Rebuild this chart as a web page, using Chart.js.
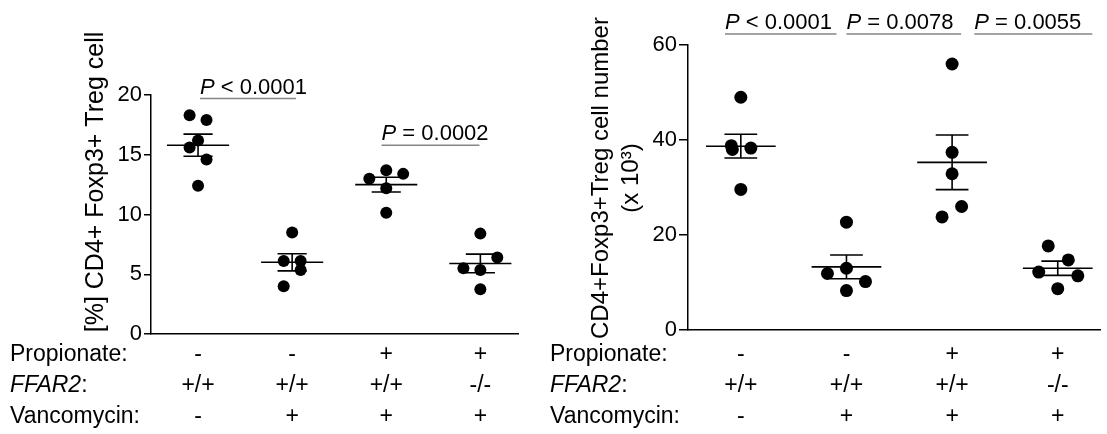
<!DOCTYPE html>
<html><head><meta charset="utf-8">
<script src="https://cdn.jsdelivr.net/npm/chart.js@4.4.0/dist/chart.umd.min.js"></script>
<style>
html,body{margin:0;padding:0;background:#fff;}
#wrap{position:relative;width:1107px;height:434px;overflow:hidden;}
#c1{position:absolute;left:0;top:0;}
#c2{position:absolute;left:540px;top:0;}
</style></head><body>
<div id="wrap">
<canvas id="c1" width="540" height="434"></canvas>
<canvas id="c2" width="567" height="434"></canvas>
</div>
<script>
// ---- categories / tick labels ----
const groups = [1, 2, 3, 4];
const propionate = ['-', '-', '+', '+'];
const ffar2 = ['+/+', '+/+', '+/+', '-/-'];
const vancomycin = ['-', '+', '+', '+'];
const rowLabels = ['Propionate:', 'FFAR2', 'Vancomycin:'];

// ---- left panel: [%] CD4+ Foxp3+ Treg cell ----
const pctTicks = [0, 5, 10, 15, 20];
const pctValues = [
  [18.3, 17.9, 16.2, 15.6, 14.6, 12.4],
  [8.5, 6.1, 6.1, 5.35, 4.0],
  [13.7, 13.0, 13.4, 12.2, 10.15],
  [8.4, 6.4, 5.5, 5.35, 3.75]
];
const pctJitter = [
  [-0.09, 0.09, 0, -0.09, 0.09, 0],
  [0, -0.09, 0.09, 0.09, -0.09],
  [0, -0.18, 0.18, 0, 0],
  [0, 0.18, -0.18, 0, 0]
];
const pctMean = [15.8, 6.0, 12.5, 5.9];
const pctSem = [0.93, 0.72, 0.62, 0.78];
const pctPText = ['< 0.0001', '= 0.0002'];
const pctPFrom = [1.02, 2.95];
const pctPTo = [2.04, 3.99];
const pctPAt = [19.7, 15.8];

// ---- right panel: cell number (x 10^3) ----
const numTicks = [0, 20, 40, 60];
const numValues = [
  [49.0, 38.8, 38.0, 38.3, 29.6],
  [22.7, 11.9, 13.0, 10.2, 8.3],
  [56.0, 37.4, 32.9, 26.0, 23.8],
  [17.7, 14.75, 12.2, 11.4, 8.7]
];
const numJitter = [
  [0, -0.09, -0.08, 0.095, 0],
  [0, -0.18, 0, 0.18, 0],
  [0, 0, 0, 0.09, -0.095],
  [-0.09, 0.1, -0.18, 0.19, 0]
];
const numMean = [38.7, 13.3, 35.3, 13.0];
const numSem = [2.5, 2.5, 5.75, 1.5];
const numPText = ['< 0.0001', '= 0.0078', '= 0.0055'];
const numPFrom = [0.85, 2.0, 3.21];
const numPTo = [1.905, 3.086, 4.327];
const numPAt = [62.3, 62.3, 62.3];

const FONT = "'Liberation Sans', Arial, Helvetica, sans-serif";
Chart.defaults.font.family = FONT;
Chart.defaults.color = '#000';

const MEAN_HALF = 0.33, CAP_HALF = 0.155;

function pointsData(values, jitter) {
  const d = [];
  values.forEach((arr, gi) => arr.forEach((v, k) => d.push({x: groups[gi] + jitter[gi][k], y: v})));
  return d;
}
function errorData(mean, sem) {
  const d = [];
  groups.forEach((g, i) => {
    const m = mean[i], s = sem[i];
    d.push({x: g - MEAN_HALF, y: m}, {x: g + MEAN_HALF, y: m}, {x: g, y: null},
           {x: g, y: m - s}, {x: g, y: m + s}, {x: g, y: null},
           {x: g - CAP_HALF, y: m + s}, {x: g + CAP_HALF, y: m + s}, {x: g, y: null},
           {x: g - CAP_HALF, y: m - s}, {x: g + CAP_HALF, y: m - s}, {x: g, y: null});
  });
  return d;
}

const annot = {
  id: 'annot',
  afterDraw(chart, args, o) {
    const ctx = chart.ctx, xs = chart.scales.x, ys = chart.scales.y;
    ctx.save();
    // significance bars
    o.pText.forEach((t, i) => {
      const x1 = xs.getPixelForValue(o.pFrom[i]), x2 = xs.getPixelForValue(o.pTo[i]);
      const y = ys.getPixelForValue(o.pAt[i]);
      ctx.strokeStyle = '#858585'; ctx.lineWidth = 1.5;
      ctx.beginPath(); ctx.moveTo(x1, y); ctx.lineTo(x2, y); ctx.stroke();
      ctx.fillStyle = '#000'; ctx.textAlign = 'left'; ctx.textBaseline = 'alphabetic';
      ctx.font = 'italic 22px ' + FONT;
      ctx.fillText('P', x1, y - 5);
      const w = ctx.measureText('P ').width;
      ctx.font = '22px ' + FONT;
      ctx.fillText(t, x1 + w, y - 5);
    });
    // row labels of the condition table
    const tk = xs.options.ticks;
    const lh = tk.font.size * tk.font.lineHeight;
    ctx.fillStyle = '#000'; ctx.textAlign = 'left'; ctx.textBaseline = 'middle';
    rowLabels.forEach((lab, i) => {
      const y = xs.top + tk.padding + lh * (i + 0.5);
      if (i === 1) {
        ctx.font = 'italic 23px ' + FONT;
        ctx.fillText(lab, o.rowX, y);
        const w = ctx.measureText(lab).width;
        ctx.font = '23px ' + FONT;
        ctx.fillText(':', o.rowX + w, y);
      } else {
        ctx.font = '23px ' + FONT;
        ctx.fillText(lab, o.rowX, y);
      }
    });
    // axis title (one or two rotated lines)
    const tt = o.title;
    ctx.translate(tt.x, tt.y);
    ctx.rotate(-Math.PI / 2);
    ctx.font = tt.size + 'px ' + FONT;
    ctx.textAlign = 'center'; ctx.textBaseline = 'middle';
    tt.text.forEach((line, i) => ctx.fillText(line, 0, i * tt.lineGap));
    ctx.restore();
  }
};

function makeChart(id, cfg) {
  return new Chart(document.getElementById(id), {
    type: 'scatter',
    data: {
      datasets: [
        {data: pointsData(cfg.values, cfg.jitter), pointRadius: cfg.radius, pointBackgroundColor: '#000', pointBorderWidth: 0, showLine: false},
        {data: errorData(cfg.mean, cfg.sem), showLine: true, spanGaps: false, pointRadius: 0, borderColor: '#000', borderWidth: 1.6, fill: false}
      ]
    },
    options: {
      responsive: false, animation: false, devicePixelRatio: 1, events: [],
      layout: {padding: cfg.padding},
      plugins: {legend: {display: false}, tooltip: {enabled: false},
        annot: {pText: cfg.pText, pFrom: cfg.pFrom, pTo: cfg.pTo, pAt: cfg.pAt, rowX: 10, title: cfg.title}},
      scales: {
        x: {
          type: 'linear', min: 0.5, max: 4.4,
          afterBuildTicks: s => { s.ticks = groups.map(v => ({value: v})); },
          afterFit: s => { s.height = cfg.xHeight; },
          ticks: {autoSkip: false, maxRotation: 0, padding: cfg.xPad, font: {size: 23, lineHeight: 31 / 23}, color: '#000',
            callback: (v, i) => [propionate[i], ffar2[i], vancomycin[i]]},
          grid: {display: false, drawTicks: false},
          border: {display: true, color: '#000', width: 1.5}
        },
        y: {
          min: cfg.ticks[0], max: cfg.ticks[cfg.ticks.length - 1],
          afterBuildTicks: s => { s.ticks = cfg.ticks.map(v => ({value: v})); },
          afterFit: s => { s.width = cfg.yWidth; },
          ticks: {padding: 2, font: {size: 22}, color: '#000'},
          grid: {drawOnChartArea: false, drawTicks: true, tickLength: cfg.tickLen, color: '#000', lineWidth: 1.5},
          border: {color: '#000', width: 1.5}
        }
      }
    },
    plugins: [annot]
  });
}

makeChart('c1', {
  values: pctValues, jitter: pctJitter, mean: pctMean, sem: pctSem, radius: 6,
  ticks: pctTicks, pText: pctPText, pFrom: pctPFrom, pTo: pctPTo, pAt: pctPAt,
  padding: {top: 95, right: 22, left: 0, bottom: 0}, xHeight: 100, xPad: 5.5, yWidth: 151, tickLen: 7,
  title: {text: ['[%] CD4+ Foxp3+ Treg cell'], x: 96, y: 182, size: 25, lineGap: 30}
});

makeChart('c2', {
  values: numValues, jitter: numJitter, mean: numMean, sem: numSem, radius: 6.5,
  ticks: numTicks, pText: numPText, pFrom: numPFrom, pTo: numPTo, pAt: numPAt,
  padding: {top: 45, right: 7, left: 0, bottom: 0}, xHeight: 104, xPad: 9.5, yWidth: 148, tickLen: 9,
  title: {text: ['CD4+Foxp3+Treg cell number', '(x 10³)'], x: 61, y: 178, size: 24, lineGap: 30}
});
</script>
</body></html>
